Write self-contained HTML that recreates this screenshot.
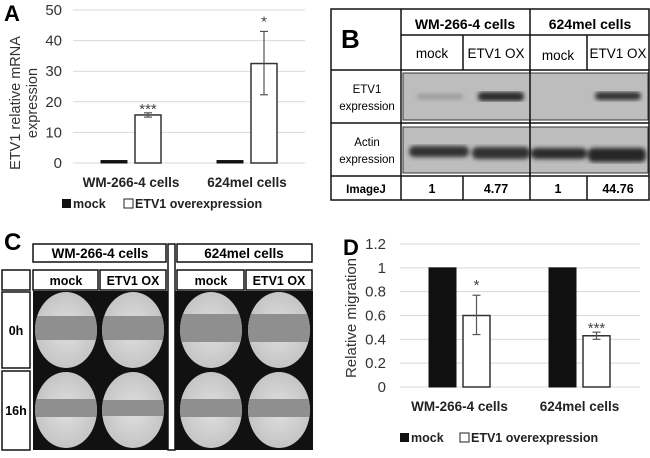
<!DOCTYPE html>
<html><head><meta charset="utf-8"><style>
html,body{margin:0;padding:0;background:#fff}
svg{display:block;font-family:"Liberation Sans",sans-serif}
.b{font-weight:bold}
</style></head><body>
<svg width="650" height="458" viewBox="0 0 650 458">
<defs>
<filter id="blur1"><feGaussianBlur stdDeviation="2"/></filter>
<radialGradient id="well" cx="50%" cy="50%" r="50%"><stop offset="0" stop-color="#e0e0e0"/><stop offset="1" stop-color="#c4c4c4"/></radialGradient>
</defs>
<!-- Panel A -->
<g id="panelA">
<text x="4" y="21" font-size="22" class="b">A</text>
<g id="aGrid"></g><g id="aBars"></g>
<text transform="translate(20,103) rotate(-90)" text-anchor="middle" font-size="14.5" fill="#333">ETV1 relative mRNA</text>
<text transform="translate(37,103) rotate(-90)" text-anchor="middle" font-size="14.5" fill="#333">expression</text>
<g>
<rect x="62" y="199" width="9" height="9" fill="#111"/><text x="73" y="208" font-size="12.5" class="b" fill="#222">mock</text>
<rect x="124" y="199" width="9" height="9" fill="#fff" stroke="#222"/><text x="135" y="208" font-size="12.5" class="b" fill="#222">ETV1 overexpression</text>
</g>
</g>
<!-- Panel B -->
<g id="panelB">
<rect x="331" y="9" width="318" height="191" fill="#fff" stroke="#111" stroke-width="1.5"/>
<text x="341" y="48" font-size="26" class="b">B</text>
<g stroke="#111" stroke-width="1.5">
<line x1="401" y1="9" x2="401" y2="200"/><line x1="530" y1="9" x2="530" y2="200"/>
<line x1="463" y1="35" x2="463" y2="70"/><line x1="587" y1="35" x2="587" y2="70"/>
<line x1="463" y1="176" x2="463" y2="200"/><line x1="587" y1="176" x2="587" y2="200"/>
<line x1="401" y1="35" x2="649" y2="35"/>
<line x1="331" y1="70" x2="649" y2="70"/><line x1="331" y1="123" x2="649" y2="123"/><line x1="331" y1="176" x2="649" y2="176"/>
</g>
<text x="465" y="29" text-anchor="middle" font-size="14" class="b">WM-266-4 cells</text>
<text x="590" y="29" text-anchor="middle" font-size="14" class="b">624mel cells</text>
<text x="432" y="58" text-anchor="middle" font-size="13.5">mock</text>
<text x="496" y="58" text-anchor="middle" font-size="13.5">ETV1 OX</text>
<text x="558" y="60" text-anchor="middle" font-size="13.5">mock</text>
<text x="618" y="58" text-anchor="middle" font-size="13.5">ETV1 OX</text>
<text x="367" y="93" text-anchor="middle" font-size="11.5">ETV1</text>
<text x="367" y="110" text-anchor="middle" font-size="11.5">expression</text>
<text x="367" y="146" text-anchor="middle" font-size="11.5">Actin</text>
<text x="367" y="163" text-anchor="middle" font-size="11.5">expression</text>
<text x="366" y="193" text-anchor="middle" font-size="11.5" class="b">ImageJ</text>
<text x="432" y="193" text-anchor="middle" font-size="12.5" class="b">1</text>
<text x="496" y="193" text-anchor="middle" font-size="12.5" class="b">4.77</text>
<text x="558" y="193" text-anchor="middle" font-size="12.5" class="b">1</text>
<text x="618" y="193" text-anchor="middle" font-size="12.5" class="b">44.76</text>
<g>
<rect x="403" y="73" width="245" height="47" fill="#bdbdbd" stroke="#333"/>
<g filter="url(#blur1)">
<rect x="417" y="94" width="46" height="5" rx="2" fill="#9a9a9a"/>
<rect x="478" y="92" width="46" height="9" rx="4" fill="#2a2a2a"/>
<rect x="595" y="92" width="46" height="8" rx="4" fill="#303030"/>
</g></g>
<g>
<rect x="403" y="127" width="245" height="46" fill="#bdbdbd" stroke="#333"/>
<g filter="url(#blur1)">
<rect x="409" y="146" width="60" height="11" rx="5" fill="#333"/>
<rect x="472" y="147" width="58" height="12" rx="5" fill="#333"/>
<rect x="531" y="148" width="56" height="11" rx="5" fill="#2a2a2a"/>
<rect x="588" y="148" width="58" height="14" rx="5" fill="#262626"/>
</g></g>
<line x1="530" y1="70" x2="530" y2="176" stroke="#111" stroke-width="1.5"/>
</g>
<!-- Panel C -->
<g id="panelC">
<text x="4" y="250" font-size="24" class="b">C</text>
<rect x="33" y="291" width="135" height="159" fill="#111"/>
<rect x="175" y="291" width="138" height="159" fill="#111"/>
<g stroke="#111" stroke-width="1.5" fill="#fff">
<rect x="33" y="244" width="133" height="18"/><rect x="177" y="244" width="135" height="18"/>
<rect x="168" y="244" width="7" height="206"/>
<rect x="2" y="270" width="28" height="20"/>
<rect x="33" y="270" width="65" height="20"/><rect x="100" y="270" width="66" height="20"/>
<rect x="177" y="270" width="67" height="20"/><rect x="246" y="270" width="66" height="20"/>
<rect x="2" y="292" width="28" height="76"/><rect x="2" y="371" width="28" height="79"/>
</g>
<text x="100" y="258" text-anchor="middle" font-size="13.5" class="b">WM-266-4 cells</text>
<text x="244" y="258" text-anchor="middle" font-size="13.5" class="b">624mel cells</text>
<text x="66" y="285" text-anchor="middle" font-size="12.5" class="b">mock</text>
<text x="133" y="285" text-anchor="middle" font-size="12.5" class="b">ETV1 OX</text>
<text x="211" y="285" text-anchor="middle" font-size="12.5" class="b">mock</text>
<text x="279" y="285" text-anchor="middle" font-size="12.5" class="b">ETV1 OX</text>
<text x="16" y="335" text-anchor="middle" font-size="12.5" class="b">0h</text>
<text x="16" y="415" text-anchor="middle" font-size="12.5" class="b">16h</text>
<g id="wells"></g>
</g>
<!-- Panel D -->
<g id="panelD">
<text x="343" y="255" font-size="22" class="b">D</text>
<g id="dGrid"></g><g id="dBars"></g>
<text transform="translate(356,318) rotate(-90)" text-anchor="middle" font-size="15" fill="#333">Relative migration</text>
<g>
<rect x="400" y="433" width="9" height="9" fill="#111"/><text x="411" y="442" font-size="12.5" class="b" fill="#222">mock</text>
<rect x="460" y="433" width="9" height="9" fill="#fff" stroke="#222"/><text x="471" y="442" font-size="12.5" class="b" fill="#222">ETV1 overexpression</text>
</g>
</g>
</svg>
<script>
const NS='http://www.w3.org/2000/svg';
function mk(p,t,a,txt){const e=document.createElementNS(NS,t);for(const k in a)e.setAttribute(k,a[k]);if(txt!=null)e.textContent=txt;p.appendChild(e);return e;}
// Panel A data
const aCategories=['WM-266-4 cells','624mel cells'];
const aMock=[0.8,0.8];
const aOver=[15.7,32.5];
const aErrLow=[15.0,22.3];
const aErrHigh=[16.4,43.0];
const aSig=['***','*'];
const aTicks=[0,10,20,30,40,50];
// Panel D data
const dCategories=['WM-266-4 cells','624mel cells'];
const dMock=[1,1];
const dOver=[0.6,0.43];
const dErrLow=[0.44,0.4];
const dErrHigh=[0.77,0.46];
const dSig=['*','***'];
const dTicks=[0,0.2,0.4,0.6,0.8,1,1.2];

function chart(cfg){
  const g=document.getElementById(cfg.grid), b=document.getElementById(cfg.bars);
  const y=v=>cfg.y0-(v-cfg.min)/(cfg.max-cfg.min)*(cfg.y0-cfg.y1);
  cfg.ticks.forEach(t=>{
    const l=mk(g,'line',{x1:cfg.gx0,x2:cfg.gx1,y1:y(t),y2:y(t),stroke:'#d9d9d9','stroke-width':1});
    
    
    const tx=mk(g,'text',{x:cfg.tx,y:y(t)+5,'text-anchor':'end','font-size':15,fill:'#333'},String(t));
    
    
  });
  cfg.cats.forEach((c,i)=>{
    const cx=cfg.cx0+i*cfg.step;
    const r1=mk(b,'rect',{x:cx-cfg.gap/2-cfg.bw,y:y(cfg.mock[i]),width:cfg.bw,height:y(0)-y(cfg.mock[i]),fill:'#111',stroke:'#111','stroke-width':1});
    
    
    const ox=cx+cfg.gap/2;
    const r2=mk(b,'rect',{x:ox,y:y(cfg.over[i]),width:cfg.bw,height:y(0)-y(cfg.over[i]),fill:'#fff',stroke:'#333','stroke-width':1.5});
    
    
    const ex=ox+cfg.bw/2;
    const eg=mk(b,'g',{stroke:'#555','stroke-width':1.2});
    
    
    mk(eg,'line',{x1:ex,x2:ex,y1:y(cfg.lo[i]),y2:y(cfg.hi[i])});
    mk(eg,'line',{x1:ex-4,x2:ex+4,y1:y(cfg.lo[i]),y2:y(cfg.lo[i])});
    mk(eg,'line',{x1:ex-4,x2:ex+4,y1:y(cfg.hi[i]),y2:y(cfg.hi[i])});
    const s=mk(b,'text',{x:ex,y:y(cfg.hi[i])-5+(cfg.sig[i]==='*'?0:6),'text-anchor':'middle','font-size':15,fill:'#444'},cfg.sig[i]);
    
    
    const cl=mk(b,'text',{x:cx,y:cfg.catY,'text-anchor':'middle','font-size':13.5,'font-weight':'bold',fill:'#222'},c);
    
    
  });
}
chart({grid:'aGrid',bars:'aBars',cats:aCategories,mock:aMock,over:aOver,lo:aErrLow,hi:aErrHigh,sig:aSig,ticks:aTicks,
  min:0,max:50,y0:163,y1:10,gx0:73,gx1:305,tx:62,cx0:131,step:116,bw:26,gap:8,catY:187});
chart({grid:'dGrid',bars:'dBars',cats:dCategories,mock:dMock,over:dOver,lo:dErrLow,hi:dErrHigh,sig:dSig,ticks:dTicks,
  min:0,max:1.2,y0:387,y1:244,gx0:400,gx1:640,tx:386,cx0:459.5,step:120,bw:27,gap:7,catY:411});

// Wells
const wg=document.getElementById('wells');
const wells=[[66,330,12],[133,330,12],[211,330,14],[279,330,14],[66,410,9],[133,410,8],[211,410,9],[279,410,9]];
wells.forEach((w,i)=>{
  const g=mk(wg,'g',{});
  
  
  const id='c'+i;
  const cp=mk(g,'clipPath',{id:id});
  mk(cp,'ellipse',{cx:w[0],cy:w[1],rx:31,ry:38});
  const inner=mk(g,'g',{'clip-path':'url(#'+id+')'});
  mk(inner,'rect',{x:w[0]-32,y:w[1]-39,width:64,height:78,fill:'url(#well)'});
  mk(inner,'rect',{x:w[0]-32,y:w[1]-w[2]-2,width:64,height:w[2]*2,fill:'#8f8f8f'});
});
</script>
</body></html>
